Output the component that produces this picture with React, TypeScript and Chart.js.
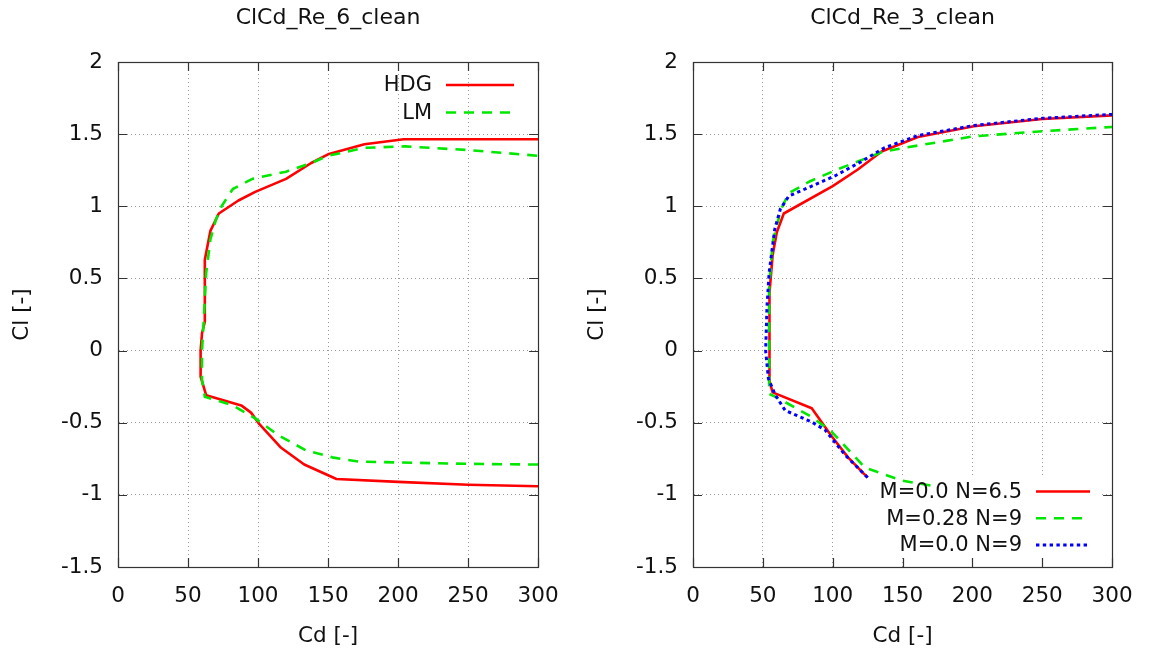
import React, { useEffect, useRef } from 'react';
import { Chart, registerables } from 'chart.js';

Chart.register(...registerables);

const FONT = "'DejaVu Sans', 'Liberation Sans', sans-serif";
const TEXT_COLOR = '#111';

// Tick values
const cdTicks = [0, 50, 100, 150, 200, 250, 300];
const clTicks = [-1.5, -1, -0.5, 0, 0.5, 1, 1.5, 2];

// ClCd_Re_6_clean : HDG
const re6HdgCd = [300, 250, 200, 156, 133, 116, 101, 95, 88, 74, 63, 59, 59, 60, 62, 62, 62, 62, 66, 72, 86, 98, 120, 138, 150, 176, 204, 300];
const re6HdgCl = [-0.94, -0.93, -0.91, -0.89, -0.79, -0.67, -0.51, -0.43, -0.38, -0.34, -0.31, -0.18, 0, 0.12, 0.2, 0.36, 0.5, 0.63, 0.83, 0.95, 1.04, 1.1, 1.19, 1.3, 1.36, 1.43, 1.465, 1.465];
// ClCd_Re_6_clean : LM
const re6LmCd = [300, 250, 224, 172, 153, 134, 115, 98, 82, 62, 60, 60, 61, 62, 63, 66, 70, 74, 82, 96, 120, 138, 150, 176, 205, 250, 300];
const re6LmCl = [-0.79, -0.785, -0.78, -0.77, -0.74, -0.69, -0.59, -0.47, -0.38, -0.32, -0.2, 0, 0.17, 0.36, 0.54, 0.77, 0.91, 1.0, 1.12, 1.19, 1.24, 1.3, 1.35, 1.405, 1.415, 1.39, 1.35];

// ClCd_Re_3_clean : M=0.0 N=6.5
const re3M0N65Cd = [125, 111, 99, 85, 57, 55, 54.5, 55, 57, 60, 65, 100, 118, 135, 161, 201, 250, 300];
const re3M0N65Cl = [-0.88, -0.74, -0.59, -0.4, -0.29, -0.22, 0, 0.4, 0.66, 0.82, 0.95, 1.14, 1.255, 1.38, 1.48, 1.555, 1.605, 1.63];
// ClCd_Re_3_clean : M=0.28 N=9
const re3M028N9Cd = [170, 149, 123, 99, 85, 61, 54.5, 54.5, 54.5, 57, 63, 68.5, 83, 102, 135, 151, 201, 250, 300];
const re3M028N9Cl = [-0.935, -0.9, -0.81, -0.56, -0.46, -0.33, -0.3, 0, 0.43, 0.75, 0.98, 1.09, 1.17, 1.25, 1.375, 1.405, 1.485, 1.52, 1.55];
// ClCd_Re_3_clean : M=0.0 N=9
const re3M0N9Cd = [125, 109, 94.5, 85, 66, 59, 54, 52, 53, 54.5, 58.5, 62.5, 68.5, 85, 101.5, 120.5, 137, 161, 201, 250, 300];
const re3M0N9Cl = [-0.88, -0.725, -0.55, -0.495, -0.415, -0.31, -0.195, 0, 0.31, 0.54, 0.84, 0.98, 1.07, 1.14, 1.21, 1.31, 1.405, 1.49, 1.56, 1.61, 1.637];

const RED = '#ff0000';
const GREEN = '#00e800';
const BLUE = '#0000ff';
const DASH = [10, 8];
const DOT = [3.4, 3.4];

type Entry = { label: string; color: string; dash: number[]; width: number };
type KeySpec = {
  entries: Entry[];
  textRight: number;
  sampleLeft: number;
  sampleRight: number;
  y0: number;
  dy: number;
  box?: { x: number; y: number; w: number; h: number };
};

function pts(xs: number[], ys: number[]) {
  return xs.map((x, i) => ({ x, y: ys[i] }));
}

function makeChart(canvas: HTMLCanvasElement, title: string, datasets: any[], key: KeySpec, padRight: number) {
  const framePlugin = {
    id: 'gnuFrame',
    beforeDatasetsDraw(chart: any) {
      if (!key.box) return;
      const ctx = chart.ctx;
      ctx.save();
      ctx.fillStyle = '#ffffff';
      ctx.fillRect(key.box.x, key.box.y, key.box.w, key.box.h);
      ctx.restore();
    },
    afterDraw(chart: any) {
      const { ctx, chartArea: a, scales } = chart;
      const xs = scales.x;
      const ys = scales.y;
      ctx.save();
      ctx.strokeStyle = '#333';
      ctx.lineWidth = 1.2;
      ctx.setLineDash([]);
      ctx.beginPath();
      for (const v of cdTicks) {
        const px = Math.round(xs.getPixelForValue(v)) + 0.5;
        ctx.moveTo(px, a.bottom);
        ctx.lineTo(px, a.bottom - 9);
        ctx.moveTo(px, a.top);
        ctx.lineTo(px, a.top + 9);
      }
      for (const v of clTicks) {
        const py = Math.round(ys.getPixelForValue(v)) + 0.5;
        ctx.moveTo(a.left, py);
        ctx.lineTo(a.left + 9, py);
        ctx.moveTo(a.right, py);
        ctx.lineTo(a.right - 9, py);
      }
      ctx.stroke();
      ctx.strokeRect(Math.round(a.left) + 0.5, Math.round(a.top) + 0.5, Math.round(a.width), Math.round(a.height));
      // key
      ctx.font = `21px ${FONT}`;
      ctx.textAlign = 'right';
      ctx.textBaseline = 'middle';
      key.entries.forEach((e, i) => {
        const y = key.y0 + i * key.dy;
        ctx.fillStyle = TEXT_COLOR;
        ctx.fillText(e.label, key.textRight, y + 1);
        ctx.strokeStyle = e.color;
        ctx.lineWidth = e.width;
        ctx.setLineDash(e.dash);
        ctx.beginPath();
        ctx.moveTo(key.sampleLeft, y);
        ctx.lineTo(key.sampleRight, y);
        ctx.stroke();
      });
      ctx.restore();
    },
  };

  return new Chart(canvas, {
    type: 'scatter',
    data: { datasets },
    plugins: [framePlugin],
    options: {
      animation: false,
      responsive: false,
      devicePixelRatio: 1,
      layout: { padding: { top: 0, left: 0, right: padRight, bottom: 0 } },
      elements: { point: { radius: 0, hoverRadius: 0 }, line: { tension: 0 } },
      plugins: {
        legend: { display: false },
        tooltip: { enabled: false },
        title: {
          display: true,
          text: title,
          fullSize: false,
          color: TEXT_COLOR,
          font: { family: FONT, size: 22, weight: 'normal', lineHeight: 1.2 },
          padding: { top: 5, bottom: 30.6 },
        },
      },
      scales: {
        x: {
          type: 'linear',
          min: 0,
          max: 300,
          afterFit: (s: any) => { s.height = 85; },
          afterBuildTicks: (s: any) => { s.ticks = cdTicks.map((v) => ({ value: v })); },
          ticks: {
            color: TEXT_COLOR,
            padding: 16.4,
            font: { family: FONT, size: 21.5 },
            callback: (v: any) => String(v),
            maxRotation: 0,
          },
          grid: { color: '#9a9a9a', lineWidth: 1, drawTicks: false },
          border: { display: true, color: '#333', width: 1, dash: [1, 3] },
          title: {
            display: true,
            text: 'Cd [-]',
            color: TEXT_COLOR,
            font: { family: FONT, size: 21.5, lineHeight: 1.2 },
            padding: { top: 0, bottom: 2.5 },
          },
        },
        y: {
          type: 'linear',
          min: -1.5,
          max: 2,
          afterFit: (s: any) => { s.width = 118; },
          afterBuildTicks: (s: any) => { s.ticks = clTicks.map((v) => ({ value: v })); },
          ticks: {
            color: TEXT_COLOR,
            padding: 15,
            font: { family: FONT, size: 21.5 },
            callback: (v: any) => String(v),
          },
          grid: { color: '#9a9a9a', lineWidth: 1, drawTicks: false },
          border: { display: true, color: '#333', width: 1, dash: [1, 3] },
          title: {
            display: true,
            text: 'Cl [-]',
            color: TEXT_COLOR,
            font: { family: FONT, size: 21.5, lineHeight: 1.2 },
            padding: { top: 9.4, bottom: 0 },
          },
        },
      },
    },
  } as any);
}

function line(label: string, xs: number[], ys: number[], color: string, dash: number[], width: number, order: number) {
  return {
    label,
    data: pts(xs, ys),
    showLine: true,
    borderColor: color,
    backgroundColor: color,
    borderWidth: width,
    borderDash: dash,
    borderJoinStyle: 'round',
    pointRadius: 0,
    fill: false,
    order,
  };
}

export default function App() {
  const leftRef = useRef<HTMLCanvasElement>(null);
  const rightRef = useRef<HTMLCanvasElement>(null);

  useEffect(() => {
    document.body.style.margin = '0';
    Chart.defaults.font.family = FONT;
    const left = makeChart(
      leftRef.current!,
      'ClCd_Re_6_clean',
      [
        line('HDG', re6HdgCd, re6HdgCl, RED, [], 2.6, 2),
        line('LM', re6LmCd, re6LmCl, GREEN, DASH, 2.6, 1),
      ],
      {
        entries: [
          { label: 'HDG', color: RED, dash: [], width: 2.6 },
          { label: 'LM', color: GREEN, dash: DASH, width: 2.6 },
        ],
        textRight: 432,
        sampleLeft: 446,
        sampleRight: 514,
        y0: 85,
        dy: 27.5,
      },
      33.5
    );
    const right = makeChart(
      rightRef.current!,
      'ClCd_Re_3_clean',
      [
        line('M=0.0 N=6.5', re3M0N65Cd, re3M0N65Cl, RED, [], 2.6, 3),
        line('M=0.28 N=9', re3M028N9Cd, re3M028N9Cl, GREEN, DASH, 2.6, 2),
        line('M=0.0 N=9', re3M0N9Cd, re3M0N9Cl, BLUE, DOT, 3, 1),
      ],
      {
        entries: [
          { label: 'M=0.0 N=6.5', color: RED, dash: [], width: 2.6 },
          { label: 'M=0.28 N=9', color: GREEN, dash: DASH, width: 2.6 },
          { label: 'M=0.0 N=9', color: BLUE, dash: DOT, width: 3 },
        ],
        textRight: 447,
        sampleLeft: 461,
        sampleRight: 515,
        y0: 491.5,
        dy: 26.7,
        box: { x: 293, y: 477, w: 232, h: 81 },
      },
      32.3
    );
    return () => {
      left.destroy();
      right.destroy();
    };
  }, []);

  return (
    <div style={{ position: 'absolute', left: 0, top: 0, width: 1149, height: 652, background: '#fff', overflow: 'hidden' }}>
      <canvas ref={leftRef} width={575} height={652} style={{ position: 'absolute', left: 0, top: 0, width: 575, height: 652 }} />
      <canvas ref={rightRef} width={574} height={652} style={{ position: 'absolute', left: 575, top: 0, width: 574, height: 652 }} />
    </div>
  );
}
